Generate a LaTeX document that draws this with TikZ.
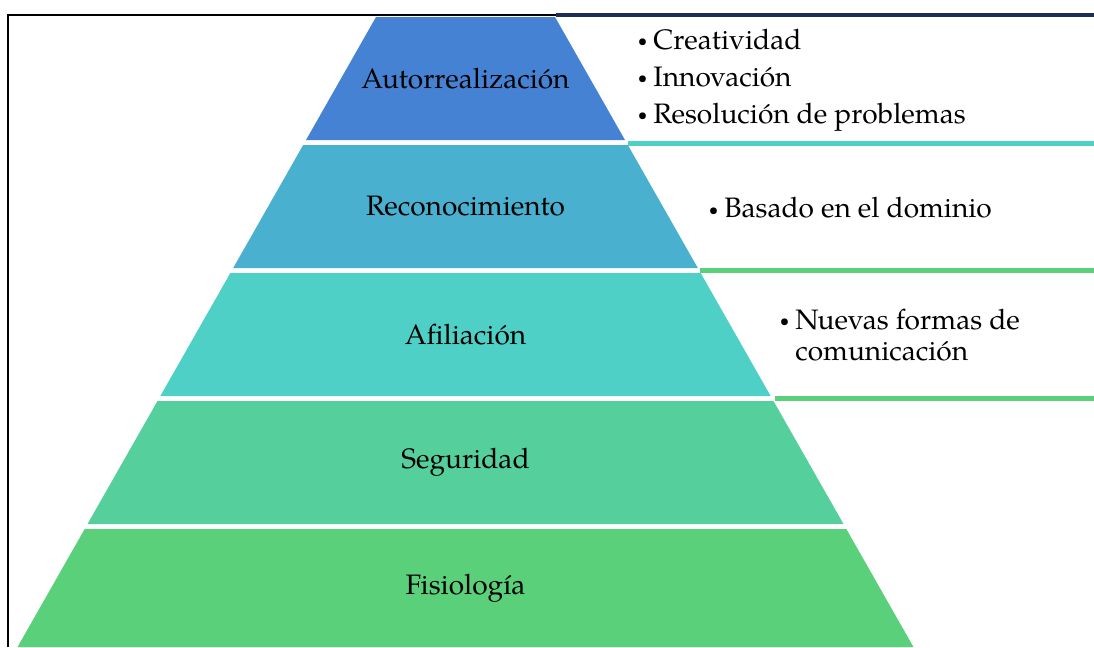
\documentclass[tikz,border=0pt]{standalone}
\usepackage{fontspec}
\setmainfont{TeX Gyre Pagella}
\definecolor{nivelA}{RGB}{70,130,212}
\definecolor{nivelB}{RGB}{74,176,207}
\definecolor{nivelC}{RGB}{78,208,198}
\definecolor{nivelD}{RGB}{85,208,156}
\definecolor{nivelE}{RGB}{91,208,122}
\definecolor{marco}{RGB}{31,45,90}
\newcommand{\punto}{\llap{\raisebox{0.2ex}{\scalebox{0.6}{\textbullet}}\hspace{3.5pt}}}

\begin{document}
\begin{tikzpicture}[x=0.02cm, y=-0.02cm,
              every node/.style={font=\fontsize{16}{21}\selectfont, inner sep=0pt},
              etiqueta/.style={anchor=center},
              lista/.style={anchor=west, align=left},
              raya/.style={line width=2.3pt}]
    \useasboundingbox (0,0) rectangle (1094,647);

    % capas de la piramide
    \foreach \t/\b/\c/\n/\txt in {17/140/nivelA/auto/Autorrealización,
                                  145/268/nivelB/reco/Reconocimiento,
                                  273/396/nivelC/afil/Afiliación,
                                  401/524/nivelD/segu/Seguridad,
                                  529/647/nivelE/fisi/Fisiología}{
        \fill[\c] ({376-0.569*(\t-17)},\t) -- ({555+0.569*(\t-17)},\t)
               -- ({555+0.569*(\b-17)},\b) -- ({376-0.569*(\b-17)},\b) -- cycle;
        \node[etiqueta] (\n) at (465.5,{(\t+\b)/2}) {\txt};
    }

    % marco
    \draw[line width=1.1pt] (8,647) -- (8,15) -- (556,15);
    \draw[marco, line width=1.8pt] (556,15) -- (1094,15);

    % rayas bajo las listas
    \draw[raya, nivelC] (628,143.5) -- (1094,143.5);
    \draw[raya, nivelE] (700,270.5) -- (1094,270.5);
    \draw[raya, nivelE] (775,398.5) -- (1094,398.5);

    % listas
    \node[lista] (listaA) at (653,80) {\punto Creatividad\\
        \punto Innovación\\
        \punto Resolución de problemas};
    \node[lista] (listaB) at (724,208) {\punto Basado en el dominio};
    \node[lista, font=\fontsize{16}{18}\selectfont] (listaC) at (795,335) {\punto Nuevas formas de\\
        comunicación};
\end{tikzpicture}
\end{document}
